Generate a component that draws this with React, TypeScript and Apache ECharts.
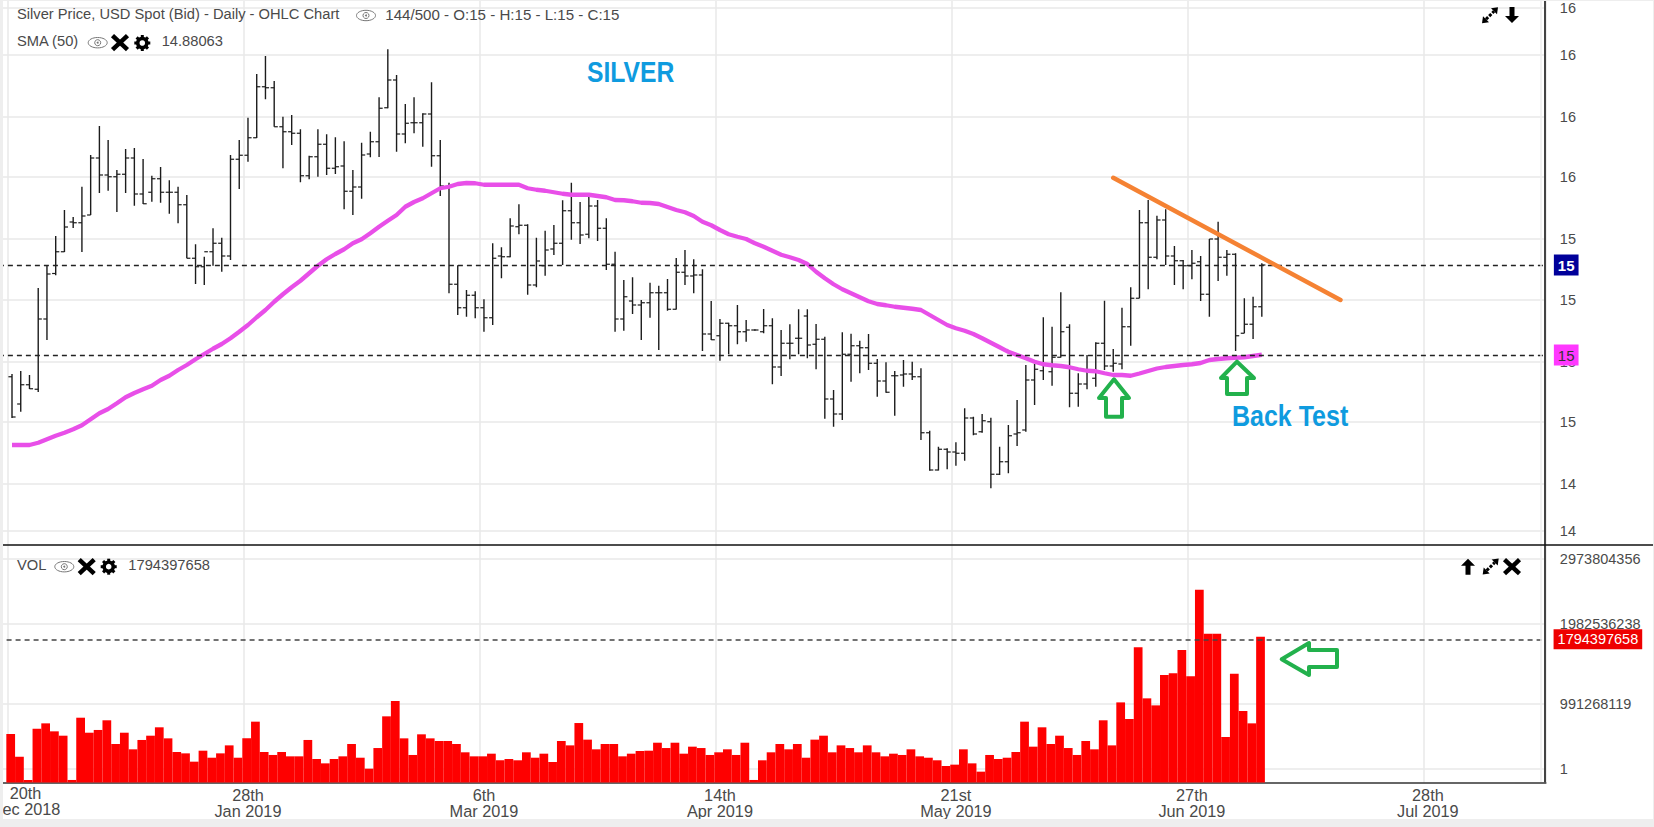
import React, { useEffect, useRef } from "react";
import * as echarts from "echarts";

const titleText = "Silver Price, USD Spot (Bid) - Daily - OHLC Chart";
const quoteText = "144/500 - O:15 - H:15 - L:15 - C:15";
const smaText = "SMA (50)";
const smaValueText = "14.88063";
const volText = "VOL";
const volValueText = "1794397658";
const silverText = "SILVER";
const backTestText = "Back Test";
const firstTickText = "20th\nDec 2018";

const tickIndexes = [0, 27, 54, 81, 108, 135, 162];
const tickLabels = ["20th\nDec 2018", "28th\nJan 2019", "6th\nMar 2019", "14th\nApr 2019", "21st\nMay 2019", "27th\nJun 2019", "28th\nJul 2019"];
const slotCount = 176;

const priceTicks = [16.268, 16.08, 15.832, 15.592, 15.344, 15.1, 14.852, 14.612, 14.364, 14.176];
const lastClose = 15.237;
const lastSma = 14.881;

const opens = [14.793,14.684,14.761,14.743,15.024,15.206,15.293,15.412,15.409,15.44,15.668,15.6,15.593,15.603,15.668,15.524,15.531,15.585,15.531,15.531,15.481,15.267,15.233,15.293,15.327,15.276,15.663,15.679,15.749,15.953,15.949,15.793,15.773,15.767,15.597,15.673,15.723,15.627,15.636,15.535,15.552,15.684,15.733,15.869,15.98,15.764,15.809,15.809,15.844,15.677,15.554,15.163,15.069,15.119,15.069,15.029,15.276,15.273,15.393,15.399,15.16,15.237,15.304,15.327,15.457,15.409,15.363,15.476,15.387,15.243,15.024,15.096,15.08,15.089,15.129,15.129,15.063,15.211,15.196,15.2,14.964,14.957,15.007,14.997,14.973,14.98,14.973,14.997,14.832,14.927,14.947,15.036,14.923,14.943,14.704,14.644,14.883,14.917,14.909,14.847,14.776,14.797,14.8,14.804,14.793,14.569,14.42,14.503,14.492,14.487,14.628,14.573,14.613,14.403,14.453,14.564,14.58,14.78,14.817,14.813,14.871,14.991,14.727,14.764,14.787,14.927,14.836,14.844,14.993,15.107,15.409,15.271,15.42,15.276,15.257,15.237,15.253,15.123,15.344,15.271,15.283,14.967,15.003,15.073];
const highs = [14.804,14.816,14.8,15.148,15.236,15.356,15.46,15.432,15.553,15.68,15.796,15.74,15.62,15.704,15.708,15.664,15.597,15.632,15.579,15.553,15.52,15.323,15.273,15.387,15.349,15.68,15.74,15.829,16.004,16.076,15.976,15.833,15.84,15.783,15.677,15.783,15.763,15.751,15.735,15.62,15.729,15.773,15.911,16.103,16.0,15.884,15.911,15.847,15.971,15.74,15.569,15.239,15.14,15.135,15.103,15.327,15.311,15.427,15.483,15.403,15.349,15.377,15.4,15.499,15.569,15.492,15.513,15.5,15.427,15.293,15.18,15.191,15.1,15.169,15.157,15.184,15.268,15.3,15.263,15.223,15.096,15.024,15.009,15.08,15.02,14.983,15.064,15.027,14.98,15.003,15.063,15.063,15.004,14.953,14.74,14.971,14.965,14.937,14.964,14.864,14.851,14.816,14.86,14.853,14.827,14.577,14.513,14.507,14.531,14.667,14.633,14.644,14.629,14.513,14.6,14.7,14.84,14.844,15.031,14.993,15.131,15.003,14.807,14.88,14.931,15.097,14.904,15.069,15.151,15.46,15.5,15.437,15.463,15.316,15.26,15.3,15.276,15.344,15.413,15.3,15.287,15.107,15.113,15.247];
const lows = [14.628,14.653,14.744,14.732,14.94,15.199,15.292,15.388,15.292,15.44,15.528,15.537,15.452,15.528,15.477,15.484,15.493,15.489,15.445,15.407,15.267,15.164,15.16,15.237,15.213,15.26,15.544,15.653,15.748,15.903,15.793,15.627,15.72,15.571,15.583,15.593,15.6,15.604,15.463,15.44,15.505,15.671,15.672,15.867,15.693,15.727,15.767,15.713,15.633,15.516,15.127,15.04,15.033,15.027,14.973,15.0,15.187,15.271,15.363,15.121,15.151,15.197,15.28,15.24,15.341,15.324,15.347,15.336,15.22,14.973,14.977,15.044,14.94,15.029,14.9,15.057,15.062,15.16,15.127,14.896,14.94,14.857,14.883,14.923,14.933,14.977,14.967,14.763,14.796,14.863,14.883,14.867,14.823,14.625,14.593,14.62,14.773,14.807,14.82,14.713,14.729,14.637,14.753,14.78,14.54,14.417,14.418,14.423,14.437,14.457,14.559,14.569,14.347,14.4,14.407,14.516,14.573,14.68,14.78,14.757,14.87,14.671,14.673,14.743,14.753,14.82,14.813,14.823,14.917,15.107,15.143,15.263,15.24,15.16,15.143,15.183,15.096,15.033,15.176,15.197,14.896,14.967,14.944,15.033];
const closes = [14.632,14.761,14.745,15.024,15.204,15.293,15.392,15.409,15.436,15.668,15.6,15.593,15.603,15.668,15.524,15.485,15.585,15.531,15.531,15.481,15.267,15.233,15.293,15.327,15.276,15.663,15.679,15.749,15.953,15.949,15.793,15.773,15.767,15.597,15.673,15.723,15.627,15.633,15.535,15.552,15.68,15.733,15.867,15.98,15.764,15.807,15.809,15.844,15.677,15.556,15.163,15.069,15.119,15.069,15.029,15.267,15.273,15.396,15.399,15.16,15.256,15.3,15.327,15.457,15.409,15.36,15.476,15.387,15.243,15.024,15.113,15.08,15.089,15.129,15.129,15.063,15.211,15.196,15.2,14.964,14.941,15.007,14.997,14.973,14.98,14.98,14.997,14.832,14.927,14.927,14.947,14.92,14.943,14.704,14.644,14.883,14.917,14.909,14.847,14.776,14.731,14.797,14.804,14.793,14.569,14.42,14.503,14.492,14.487,14.628,14.564,14.617,14.403,14.453,14.557,14.569,14.78,14.823,14.843,14.871,14.973,14.727,14.764,14.82,14.927,14.836,14.847,14.993,15.107,15.409,15.271,15.42,15.276,15.257,15.237,15.247,15.123,15.344,15.271,15.283,14.957,15.003,15.073,15.24];
const smaValues = [14.52,14.52,14.52,14.529,14.543,14.557,14.569,14.583,14.599,14.623,14.647,14.664,14.687,14.711,14.728,14.743,14.757,14.78,14.797,14.82,14.84,14.863,14.884,14.905,14.924,14.947,14.973,15.0,15.031,15.06,15.093,15.123,15.151,15.177,15.207,15.237,15.263,15.284,15.303,15.327,15.343,15.367,15.393,15.417,15.44,15.473,15.492,15.507,15.527,15.547,15.553,15.564,15.568,15.567,15.561,15.561,15.561,15.561,15.561,15.547,15.541,15.537,15.531,15.525,15.521,15.521,15.521,15.516,15.511,15.5,15.499,15.495,15.489,15.488,15.484,15.472,15.46,15.451,15.436,15.413,15.399,15.38,15.363,15.353,15.344,15.327,15.313,15.297,15.281,15.271,15.26,15.244,15.213,15.187,15.163,15.143,15.127,15.111,15.095,15.084,15.079,15.073,15.069,15.065,15.06,15.04,15.02,15.0,14.987,14.977,14.964,14.947,14.929,14.911,14.893,14.88,14.867,14.853,14.843,14.839,14.836,14.831,14.823,14.817,14.815,14.807,14.8,14.8,14.797,14.806,14.816,14.826,14.832,14.836,14.84,14.843,14.848,14.86,14.864,14.867,14.869,14.871,14.876,14.881];
const trendSlots = [127, 153];
const trendPrices = [15.589, 15.1];

// volumes, in millions
const volumes = [620,339,50,686,752,653,599,50,822,636,670,790,496,636,430,546,599,703,566,397,380,277,413,326,380,479,326,566,773,397,360,397,343,343,546,310,256,310,343,496,326,190,446,839,1029,566,360,616,566,533,533,496,393,343,343,376,294,310,294,393,326,376,273,533,479,756,550,430,496,496,343,376,409,413,512,446,512,376,463,446,360,393,430,360,512,50,294,393,496,430,496,326,550,599,393,479,446,393,479,393,343,376,360,430,343,326,294,223,240,430,256,153,360,310,326,397,773,463,703,496,599,446,360,533,430,790,479,1012,806,1695,1062,975,1352,1372,1662,1335,2410,1864,1864,583,1368,905,752,1826];
const volumeTicks = [2790, 1984, 992, 186];
const volumeTickLabels = ["2973804356", "1982536238", "991268119", "1"];
const lastVolume = 1794.4;

const FONT = "Liberation Sans";
const GREY = "#4a4a4a";
const GRID = "#e9e9e9";
const CANVAS_SHIFT = 10;
const categories = ["", ...Array.from({ length: slotCount }, (_, i) => {
  const k = tickIndexes.indexOf(i);
  return k >= 0 ? tickLabels[k] : `b${i}`;
})];
const isTick = (index: number) => tickIndexes.includes(index - 1);

const eye = (cx: number, cy: number) => [
  { type: "ellipse", z: 50, shape: { cx, cy, rx: 9.5, ry: 5.2 }, style: { fill: "none", stroke: "#777", lineWidth: 1 } },
  { type: "circle", z: 50, shape: { cx, cy, r: 3 }, style: { fill: "none", stroke: "#777", lineWidth: 1 } },
  { type: "circle", z: 50, shape: { cx, cy, r: 1 }, style: { fill: "#777" } },
];
const cross = (cx: number, cy: number) => [
  { type: "line", z: 50, shape: { x1: cx - 7.5, y1: cy - 7, x2: cx + 7.5, y2: cy + 7 }, style: { stroke: "#000", lineWidth: 4.5 } },
  { type: "line", z: 50, shape: { x1: cx + 7.5, y1: cy - 7, x2: cx - 7.5, y2: cy + 7 }, style: { stroke: "#000", lineWidth: 4.5 } },
];
const gear = (cx: number, cy: number) => [
  ...[0, Math.PI / 4, Math.PI / 2, (3 * Math.PI) / 4].map((a) => ({
    type: "line", z: 50,
    shape: { x1: cx - 8 * Math.cos(a), y1: cy - 8 * Math.sin(a), x2: cx + 8 * Math.cos(a), y2: cy + 8 * Math.sin(a) },
    style: { stroke: "#000", lineWidth: 3 },
  })),
  { type: "circle", z: 50, shape: { cx, cy, r: 6.3 }, style: { fill: "#000" } },
  { type: "circle", z: 51, shape: { cx, cy, r: 2.8 }, style: { fill: "#fff" } },
];
const expand = (cx: number, cy: number) => [
  { type: "line", z: 50, shape: { x1: cx - 4, y1: cy + 4, x2: cx + 4, y2: cy - 4 }, style: { stroke: "#000", lineWidth: 3, lineDash: [3, 1.5] } },
  { type: "polygon", z: 50, shape: { points: [[cx + 8, cy - 8], [cx + 1, cy - 7], [cx + 7, cy - 1]] }, style: { fill: "#000" } },
  { type: "polygon", z: 50, shape: { points: [[cx - 8, cy + 8], [cx - 1, cy + 7], [cx - 7, cy + 1]] }, style: { fill: "#000" } },
];
const arrowV = (cx: number, cy: number, up: boolean) => {
  const s = up ? 1 : -1;
  return [{
    type: "polygon", z: 50,
    shape: { points: [[cx, cy - 8 * s], [cx + 7, cy - 1 * s], [cx + 2.5, cy - 1 * s], [cx + 2.5, cy + 8 * s], [cx - 2.5, cy + 8 * s], [cx - 2.5, cy - 1 * s], [cx - 7, cy - 1 * s]] },
    style: { fill: "#000" },
  }];
};
const label = (text: string, x: number, y: number, extra: any = {}) => ({
  type: "text", z: 50, x, y,
  style: { text, fontFamily: FONT, fontSize: 14.7, fill: GREY, verticalAlign: "middle", align: "left", ...extra },
});
const greenArrow = (points: number[][]) => ({
  type: "polygon", z: 40, shape: { points },
  style: { fill: "#fff", stroke: "#22b14c", lineWidth: 4, lineJoin: "round" },
});
const frameLine = (x1: number, y1: number, x2: number, y2: number, stroke: string, lineWidth: number) => ({
  type: "line", z: 30, shape: { x1, y1, x2, y2 }, style: { stroke, lineWidth },
});
const strip = (x: number, y: number, width: number, height: number) => ({
  type: "rect", z: 90, shape: { x, y, width, height }, style: { fill: "#eeeeee" },
});

const App = () => {
  const ref = useRef<HTMLDivElement>(null);
  useEffect(() => {
    const chart = echarts.init(ref.current!, undefined, { renderer: "svg" });
    const ohlcRows = opens.map((o, i) => [i + 1, o, highs[i], lows[i], closes[i]]);
    const annotations: any[] = [
      label(titleText, 17, 14),
      ...eye(366, 15.5),
      label(quoteText, 385.3, 14, { fontSize: 15.1 }),
      label(smaText, 17, 41),
      ...eye(97.7, 42.7), ...cross(120, 42.7), ...gear(142.3, 43),
      label(smaValueText, 161.7, 41),
      label(volText, 17, 565),
      ...eye(64.3, 566.7), ...cross(86.7, 566.7), ...gear(108.7, 566.7),
      label(volValueText, 128.3, 565),
      ...expand(1490, 15.3), ...arrowV(1512, 15, false),
      ...arrowV(1468, 566.7, true), ...expand(1490.7, 566.5), ...cross(1512, 566.7),
      { type: "text", z: 50, x: 587, y: 72, scaleY: 1.17, style: { text: silverText, fontFamily: FONT, fontSize: 24.7, fontWeight: "bold", fill: "#0f9bdf", verticalAlign: "middle" } },
      { type: "text", z: 50, x: 1232, y: 416, scaleY: 1.15, style: { text: backTestText, fontFamily: FONT, fontSize: 25, fontWeight: "bold", fill: "#0f9bdf", verticalAlign: "middle" } },
      greenArrow([[1114, 379.3], [1129, 398], [1122, 398], [1122, 416.7], [1106, 416.7], [1106, 398], [1099, 398]]),
      greenArrow([[1237, 361.7], [1254, 378], [1247, 378], [1247, 394], [1227, 394], [1227, 378], [1221, 378]]),
      greenArrow([[1281.7, 659.3], [1309, 643], [1309, 650], [1337, 650], [1337, 667], [1309, 667], [1309, 675]]),
      { type: "text", z: 20, x: 25.5, y: 785, style: { text: firstTickText, fontFamily: FONT, fontSize: 16.3, lineHeight: 16, fill: GREY, align: "center", verticalAlign: "top" } },
      frameLine(1541, 0, 1541, 782, "#eeeeee", 1.5),
      frameLine(1545, 0, 1545, 782.5, "#444", 2),
      frameLine(3, 545, 1653, 545, "#111", 1.5),
      strip(0, 0, 3, 827),
      strip(0, 819, 1654, 8),
      strip(1653, 0, 1, 827),
      strip(0, 0, 1654, 1),
    ];
    chart.setOption({
      animation: false,
      backgroundColor: "#fff",
      textStyle: { fontFamily: FONT },
      grid: [
        { left: 8.89, top: 0, width: 1546.98, height: 545 },
        { left: 7.59, top: 545, width: 1546.98, height: 237.5 },
        { left: 8.89, top: 545, width: 1546.98, height: 237.5 },
      ],
      xAxis: [
        {
          type: "category", gridIndex: 0, data: categories, boundaryGap: true,
          axisLine: { show: false }, axisTick: { show: false }, axisLabel: { show: false },
          splitLine: { show: true, interval: (i: number) => isTick(i), lineStyle: { color: GRID, width: 1.5 } },
        },
        {
          type: "category", gridIndex: 1, data: categories,
          axisLine: { show: false }, axisTick: { show: false }, axisLabel: { show: false }, splitLine: { show: false },
        },
        {
          type: "category", gridIndex: 2, data: categories,
          axisLine: { show: true, lineStyle: { color: "#333", width: 1.5 } },
          axisTick: { show: false },
          axisLabel: {
            show: true, margin: 4, fontFamily: FONT, fontSize: 16.3, lineHeight: 16, color: GREY,
            hideOverlap: false, interval: (i: number) => isTick(i) && i !== 1,
          },
          splitLine: { show: true, interval: (i: number) => isTick(i), lineStyle: { color: GRID, width: 1.5 } },
        },
      ],
      yAxis: [
        {
          type: "value", gridIndex: 0, position: "right", min: 14.12, max: 16.3, scale: true,
          axisLine: { show: false },
          axisTick: { show: false, customValues: priceTicks },
          axisLabel: {
            show: true, customValues: priceTicks, margin: 14, fontFamily: FONT, fontSize: 14.5, color: GREY, align: "left",
            padding: [0, 0, 5.5, 0], formatter: (v: number) => v.toFixed(0),
          },
          splitLine: { show: true, lineStyle: { color: GRID, width: 1.5 } },
        },
        {
          type: "value", gridIndex: 1, position: "right", min: 18.6, max: 2963.6,
          axisLine: { show: false },
          axisTick: { show: false, customValues: volumeTicks },
          axisLabel: {
            show: true, customValues: volumeTicks, margin: 15.3, fontFamily: FONT, fontSize: 14.5, color: GREY, align: "left",
            padding: [0, 0, 3, 0], formatter: (v: number) => volumeTickLabels[volumeTicks.indexOf(v)] ?? "",
          },
          splitLine: { show: true, lineStyle: { color: GRID, width: 1.5 } },
        },
        {
          type: "value", gridIndex: 2, position: "right", min: 0, max: 1,
          axisLine: { show: false }, axisTick: { show: false }, axisLabel: { show: false }, splitLine: { show: false },
        },
      ],
      series: [
        {
          name: "Silver", type: "custom", xAxisIndex: 0, yAxisIndex: 0, data: ohlcRows, encode: { x: 0, y: [1, 2, 3, 4] },
          z: 3, clip: true,
          renderItem: (_p: any, api: any) => {
            const idx = api.value(0);
            const [x, yo] = api.coord([idx, api.value(1)]);
            const yh = api.coord([idx, api.value(2)])[1];
            const yl = api.coord([idx, api.value(3)])[1];
            const yc = api.coord([idx, api.value(4)])[1];
            const s = { stroke: "#1c1c1c", lineWidth: 1.4 };
            const t = { stroke: "#1c1c1c", lineWidth: 1.2 };
            return {
              type: "group",
              children: [
                { type: "line", shape: { x1: x, y1: yh, x2: x, y2: yl }, style: s },
                { type: "line", shape: { x1: x - 3.6, y1: yo, x2: x, y2: yo }, style: t },
                { type: "line", shape: { x1: x, y1: yc, x2: x + 3.6, y2: yc }, style: t },
              ],
            };
          },
        },
        {
          name: "SMA (50)", type: "line", xAxisIndex: 0, yAxisIndex: 0, z: 4,
          data: smaValues.map((v, i) => [i + 1, v]), showSymbol: false, symbol: "none",
          lineStyle: { color: "#e84fe8", width: 4.3 },
          markLine: {
            silent: true, symbol: "none", animation: false,
            lineStyle: { color: "#222", type: [5, 4], width: 1.4 },
            data: [
              { yAxis: lastClose, label: { show: true, position: "end", distance: 8, formatter: "15", color: "#fff", fontFamily: FONT, fontSize: 15, fontWeight: "bold", backgroundColor: "#00009a", padding: [3, 4, 3, 4], align: "left" } },
              { yAxis: lastSma, label: { show: true, position: "end", distance: 8, formatter: "15", color: "#333", fontFamily: FONT, fontSize: 15, backgroundColor: "#ff38ff", padding: [3, 4, 3, 4], align: "left" } },
            ],
          },
        },
        {
          name: "Trend", type: "line", xAxisIndex: 0, yAxisIndex: 0, z: 5,
          data: trendSlots.map((s, i) => [s, trendPrices[i]]), showSymbol: false, symbol: "none",
          lineStyle: { color: "#f58233", width: 4.5, cap: "round" },
        },
        {
          name: "VOL", type: "bar", xAxisIndex: 1, yAxisIndex: 1, z: 2,
          data: [null, ...volumes], barCategoryGap: 0, barWidth: "100%",
          itemStyle: { color: "#fe0000" },
          markLine: {
            silent: true, symbol: "none", animation: false,
            lineStyle: { color: "#444", type: [5, 4], width: 1.6 },
            data: [
              { yAxis: lastVolume, label: { show: true, position: "end", distance: 9, formatter: volValueText, color: "#fff", fontFamily: FONT, fontSize: 14.5, backgroundColor: "#ee0000", padding: [3, 4, 2, 4] } },
            ],
          },
        },
      ],
      graphic: annotations.map((el) => ({ ...el, x: (el.x ?? 0) + CANVAS_SHIFT })),
    });
    return () => chart.dispose();
  }, []);
  return <div ref={ref} style={{ position: "fixed", left: -CANVAS_SHIFT, top: 0, width: 1654 + CANVAS_SHIFT, height: 827 }} />;
};

export default App;
